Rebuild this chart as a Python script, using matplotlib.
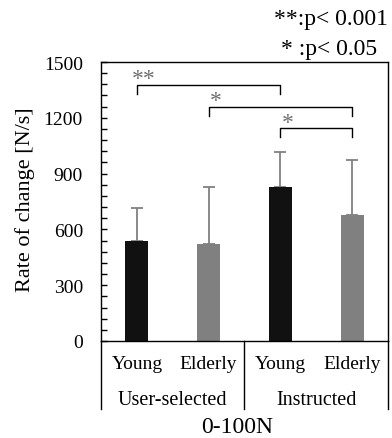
import matplotlib
matplotlib.use("Agg")
import matplotlib.pyplot as plt
from matplotlib.ticker import MultipleLocator

groups = ["User-selected", "Instructed"]
subgroups = ["Young", "Elderly", "Young", "Elderly"]
means = [539, 521, 830, 679]
sds = [175, 309, 188, 294]
colors = ["#111111", "#808080", "#111111", "#808080"]
yticks = [0, 300, 600, 900, 1200, 1500]
# significance brackets: (left bar, right bar, bracket height, drop height, label)
brackets = [(0, 2, 1378, 1330, "**"), (1, 3, 1260, 1208, "*"), (2, 3, 1143, 1095, "*")]
legend_lines = ["**:p< 0.001", "* :p< 0.05"]
xlabel = "0-100N"
ylabel = "Rate of change [N/s]"

plt.rcParams["font.family"] = ["Liberation Serif", "DejaVu Serif"]
W, H = 392, 439
fig = plt.figure(figsize=(W / 100, H / 100), dpi=100)
ax = fig.add_axes([101 / W, 1 - 342 / H, (388 - 101) / W, (342 - 63) / H])

x = list(range(len(means)))
ax.bar(x, means, width=0.32, color=colors, zorder=2)
ax.errorbar(x, means, yerr=[[0] * len(sds), sds], fmt="none", ecolor="#808080",
            elinewidth=1.3, capsize=4, capthick=1.3, zorder=1)

ax.set_xlim(-0.5, 3.5)
ax.set_ylim(0, 1500)
ax.set_yticks(yticks)
ax.yaxis.set_minor_locator(MultipleLocator(60))
ax.tick_params(axis="y", which="both", direction="in", length=4, width=1, pad=13, labelsize=14)
ax.set_xticks([])
for s in ax.spines.values():
    s.set_linewidth(1)

for (a, b, h, d, lab) in brackets:
    ax.plot([a, a, b, b], [d, h, h, d], color="black", lw=1, clip_on=False)
    ax.text(a + 0.1, h - 25, lab, color="#707070", fontsize=17, ha="center", va="bottom")

fig.text(25 / W, 1 - 200 / H, ylabel, rotation=90, ha="center", va="center", fontsize=16)

# category labels below the axis
trans = ax.get_xaxis_transform()
for i, s in enumerate(subgroups):
    ax.text(i, -0.082, s, transform=trans, ha="center", va="center", fontsize=14)
for j, g in enumerate(groups):
    ax.text(0.5 + 2 * j, -0.208, g, transform=trans, ha="center", va="center", fontsize=14.5)
for xv in [-0.5, 1.5, 3.5]:
    ax.plot([xv, xv], [0, -0.244], transform=trans, color="black", lw=1, clip_on=False)

fig.text(237 / W, 1 - 428 / H, xlabel, ha="center", va="center", fontsize=17)
fig.text(388 / W, 1 - 20 / H, legend_lines[0], ha="right", va="center", fontsize=17)
fig.text(377 / W, 1 - 49 / H, legend_lines[1], ha="right", va="center", fontsize=17)

fig.savefig("out.png", dpi=100)
